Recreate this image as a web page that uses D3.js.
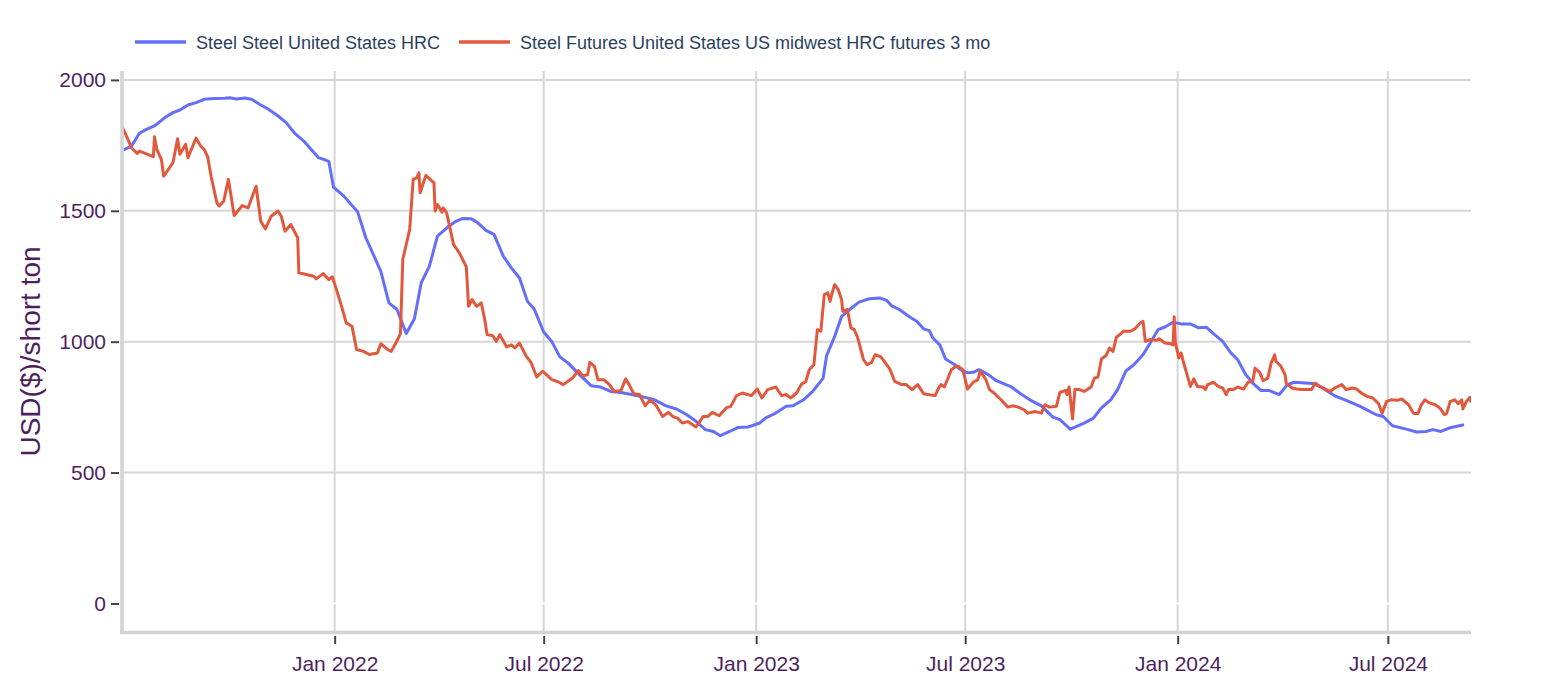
<!DOCTYPE html>
<html><head><meta charset="utf-8">
<script src="https://cdn.jsdelivr.net/npm/d3@7"></script>
<style>body{margin:0;background:#fff} svg{display:block}</style>
</head><body><svg id="chart" width="1552" height="688"></svg>
<script>
const seriesNames = ["Steel Steel United States HRC", "Steel Futures United States US midwest HRC futures 3 mo"];
const yTickValues = [0, 500, 1000, 1500, 2000];
const xTickDates = ["2022-01-01","2022-07-01","2023-01-01","2023-07-01","2024-01-01","2024-07-01"];
const yTitle = "USD($)/short ton";

const hrcDates = ["2021-06-30","2021-07-09","2021-07-16","2021-07-22","2021-07-29","2021-08-07","2021-08-14","2021-08-20","2021-08-27","2021-09-03","2021-09-10","2021-09-19","2021-09-28","2021-10-02","2021-10-08","2021-10-15","2021-10-21","2021-10-28","2021-11-04","2021-11-13","2021-11-20","2021-11-27","2021-12-06","2021-12-18","2021-12-24","2021-12-27","2021-12-31","2022-01-09","2022-01-21","2022-01-28","2022-02-10","2022-02-17","2022-02-24","2022-03-04","2022-03-11","2022-03-17","2022-03-24","2022-03-31","2022-04-10","2022-04-16","2022-04-22","2022-04-29","2022-05-05","2022-05-12","2022-05-19","2022-05-27","2022-06-03","2022-06-10","2022-06-17","2022-06-23","2022-07-01","2022-07-08","2022-07-15","2022-07-22","2022-08-01","2022-08-11","2022-08-19","2022-08-28","2022-09-06","2022-09-15","2022-09-25","2022-10-05","2022-10-15","2022-10-24","2022-11-02","2022-11-09","2022-11-18","2022-11-25","2022-12-01","2022-12-09","2022-12-16","2022-12-25","2023-01-04","2023-01-09","2023-01-17","2023-01-27","2023-02-02","2023-02-11","2023-02-19","2023-02-28","2023-03-03","2023-03-10","2023-03-16","2023-03-23","2023-03-31","2023-04-09","2023-04-18","2023-04-24","2023-04-28","2023-05-05","2023-05-13","2023-05-20","2023-05-26","2023-05-31","2023-06-03","2023-06-09","2023-06-14","2023-06-22","2023-06-27","2023-07-03","2023-07-08","2023-07-13","2023-07-21","2023-07-28","2023-08-10","2023-08-19","2023-08-26","2023-09-05","2023-09-15","2023-09-21","2023-09-30","2023-10-12","2023-10-20","2023-10-27","2023-11-04","2023-11-10","2023-11-17","2023-11-24","2023-12-02","2023-12-09","2023-12-15","2023-12-21","2023-12-28","2024-01-04","2024-01-12","2024-01-19","2024-01-26","2024-02-02","2024-02-09","2024-02-16","2024-02-22","2024-02-29","2024-03-06","2024-03-13","2024-03-20","2024-03-29","2024-04-05","2024-04-11","2024-04-27","2024-05-04","2024-05-17","2024-05-26","2024-06-07","2024-06-21","2024-06-27","2024-07-05","2024-07-17","2024-07-26","2024-08-03","2024-08-09","2024-08-16","2024-08-23","2024-09-05"];
const hrcValues = [1728,1747,1796,1811,1824,1856,1875,1885,1904,1913,1926,1929,1930,1932,1927,1931,1926,1907,1890,1862,1837,1798,1763,1703,1694,1688,1590,1556,1495,1397,1269,1148,1123,1031,1087,1225,1288,1403,1441,1460,1471,1470,1454,1425,1410,1327,1282,1244,1154,1123,1037,1001,942,919,874,832,827,810,806,798,789,778,755,743,721,699,664,657,641,657,672,674,689,708,725,753,755,778,810,861,947,1020,1097,1123,1151,1164,1167,1158,1138,1123,1097,1078,1049,1042,1014,988,934,912,893,881,883,893,874,851,827,798,778,755,712,702,666,689,708,747,778,817,887,912,950,1001,1046,1056,1074,1068,1068,1053,1055,1027,1001,957,931,874,842,814,814,798,836,845,840,827,791,776,753,721,714,679,666,655,657,664,657,670,683];

const futDates = ["2021-06-30","2021-07-06","2021-07-09","2021-07-14","2021-07-16","2021-07-28","2021-07-29","2021-07-31","2021-08-04","2021-08-06","2021-08-14","2021-08-18","2021-08-20","2021-08-25","2021-08-27","2021-09-03","2021-09-07","2021-09-10","2021-09-13","2021-09-16","2021-09-21","2021-09-23","2021-09-27","2021-10-01","2021-10-06","2021-10-13","2021-10-18","2021-10-25","2021-10-29","2021-11-02","2021-11-07","2021-11-13","2021-11-16","2021-11-19","2021-11-24","2021-11-30","2021-12-01","2021-12-14","2021-12-16","2021-12-22","2021-12-27","2021-12-30","2022-01-03","2022-01-07","2022-01-11","2022-01-16","2022-01-20","2022-01-26","2022-01-31","2022-02-07","2022-02-10","2022-02-16","2022-02-19","2022-02-23","2022-02-27","2022-03-01","2022-03-07","2022-03-10","2022-03-13","2022-03-15","2022-03-16","2022-03-21","2022-03-28","2022-03-29","2022-03-31","2022-04-04","2022-04-05","2022-04-08","2022-04-14","2022-04-19","2022-04-25","2022-04-27","2022-04-30","2022-05-04","2022-05-08","2022-05-11","2022-05-13","2022-05-18","2022-05-21","2022-05-24","2022-05-30","2022-06-03","2022-06-06","2022-06-10","2022-06-16","2022-06-20","2022-06-25","2022-06-30","2022-07-02","2022-07-08","2022-07-13","2022-07-18","2022-07-26","2022-07-31","2022-08-04","2022-08-08","2022-08-10","2022-08-14","2022-08-17","2022-08-22","2022-08-27","2022-08-31","2022-09-06","2022-09-10","2022-09-13","2022-09-17","2022-09-22","2022-09-27","2022-10-01","2022-10-06","2022-10-12","2022-10-17","2022-10-21","2022-10-25","2022-10-29","2022-11-03","2022-11-07","2022-11-10","2022-11-16","2022-11-20","2022-11-24","2022-11-30","2022-12-06","2022-12-10","2022-12-15","2022-12-20","2022-12-28","2023-01-02","2023-01-06","2023-01-11","2023-01-18","2023-01-23","2023-01-27","2023-01-31","2023-02-05","2023-02-09","2023-02-13","2023-02-16","2023-02-20","2023-02-23","2023-02-26","2023-03-01","2023-03-04","2023-03-06","2023-03-08","2023-03-10","2023-03-13","2023-03-16","2023-03-17","2023-03-21","2023-03-24","2023-03-27","2023-03-30","2023-04-04","2023-04-07","2023-04-11","2023-04-14","2023-04-19","2023-04-22","2023-04-27","2023-05-01","2023-05-07","2023-05-11","2023-05-16","2023-05-21","2023-05-26","2023-06-05","2023-06-08","2023-06-10","2023-06-13","2023-06-19","2023-06-22","2023-06-25","2023-06-29","2023-07-03","2023-07-08","2023-07-12","2023-07-14","2023-07-19","2023-07-22","2023-07-26","2023-08-01","2023-08-07","2023-08-11","2023-08-16","2023-08-21","2023-08-24","2023-08-31","2023-09-05","2023-09-08","2023-09-12","2023-09-18","2023-09-21","2023-09-26","2023-09-27","2023-09-29","2023-10-02","2023-10-04","2023-10-08","2023-10-12","2023-10-18","2023-10-21","2023-10-24","2023-10-27","2023-10-31","2023-11-03","2023-11-06","2023-11-09","2023-11-12","2023-11-15","2023-11-21","2023-11-25","2023-11-29","2023-12-02","2023-12-04","2023-12-08","2023-12-14","2023-12-16","2023-12-21","2023-12-26","2023-12-28","2023-12-29","2023-12-30","2024-01-02","2024-01-04","2024-01-07","2024-01-10","2024-01-12","2024-01-15","2024-01-18","2024-01-23","2024-01-25","2024-01-27","2024-02-01","2024-02-05","2024-02-09","2024-02-12","2024-02-14","2024-02-18","2024-02-22","2024-02-27","2024-03-02","2024-03-06","2024-03-08","2024-03-12","2024-03-15","2024-03-19","2024-03-22","2024-03-25","2024-03-26","2024-03-30","2024-04-03","2024-04-04","2024-04-09","2024-04-13","2024-04-17","2024-04-26","2024-04-29","2024-05-03","2024-05-08","2024-05-12","2024-05-16","2024-05-22","2024-05-26","2024-05-31","2024-06-04","2024-06-08","2024-06-13","2024-06-18","2024-06-23","2024-06-26","2024-06-30","2024-07-04","2024-07-09","2024-07-13","2024-07-19","2024-07-23","2024-07-27","2024-07-30","2024-08-02","2024-08-06","2024-08-11","2024-08-15","2024-08-19","2024-08-21","2024-08-24","2024-08-28","2024-08-31","2024-09-03","2024-09-04","2024-09-07","2024-09-10","2024-09-11"];
const futValues = [1830,1773,1741,1719,1728,1707,1783,1735,1696,1632,1684,1775,1716,1754,1703,1778,1747,1735,1707,1632,1531,1518,1537,1620,1482,1520,1511,1594,1460,1431,1479,1499,1477,1422,1448,1397,1263,1250,1240,1260,1237,1248,1193,1135,1072,1059,970,963,951,957,992,970,963,995,1031,1314,1429,1620,1626,1645,1569,1635,1607,1499,1524,1495,1511,1492,1371,1339,1286,1135,1161,1135,1148,1084,1027,1023,1001,1027,980,988,976,995,944,921,865,887,880,855,848,836,861,890,870,874,921,906,855,855,836,810,814,858,836,801,798,755,778,759,714,730,714,708,689,695,683,674,714,714,730,717,747,753,794,804,794,819,785,817,827,794,798,785,804,836,848,893,912,1046,1040,1180,1187,1154,1189,1218,1199,1161,1116,1123,1053,1046,1014,931,912,921,950,942,925,893,848,836,836,817,836,801,794,823,836,827,893,903,906,893,819,845,855,887,855,817,804,778,750,755,750,740,727,733,727,759,750,753,806,814,798,827,705,817,817,810,827,861,865,934,947,976,963,1018,1027,1040,1040,1049,1069,1078,1001,1008,1005,1011,995,992,988,1095,995,938,957,906,861,829,858,829,827,817,836,845,829,823,798,817,817,827,819,845,848,899,883,851,861,919,950,925,909,874,842,823,819,817,817,842,829,819,810,823,836,817,823,819,804,791,785,763,727,772,778,776,781,759,727,725,759,778,766,759,747,721,727,772,778,763,778,743,772,787,768];

const colors = ["#636efa", "#e2583d"];
const tickColor = "#4e1f5f";
const font = "'Liberation Sans', Arial, Helvetica, sans-serif";

const parse = d3.utcParse("%Y-%m-%d");
const svg = d3.select("#chart");
const L = 121, R = 1471, T = 71, B = 632;

const x = d3.scaleUtc().domain([parse("2021-06-30"), parse("2024-09-11")]).range([L, R]);
const y = d3.scaleLinear().domain([-109, 2034]).range([B, T]);

const g = svg.append("g");
// horizontal grid
g.selectAll(".hg").data(yTickValues.filter(v => v !== 0)).join("line")
  .attr("x1", L).attr("x2", R).attr("y1", d => y(d)).attr("y2", d => y(d))
  .attr("stroke", "#d6d6d6").attr("stroke-width", 2);
// vertical grid
g.selectAll(".vg").data(xTickDates.map(parse)).join("line")
  .attr("x1", d => x(d)).attr("x2", d => x(d)).attr("y1", T).attr("y2", B)
  .attr("stroke", "#d6d6d6").attr("stroke-width", 2);
// zero line (white)
g.append("line").attr("x1", L).attr("x2", R).attr("y1", y(0)).attr("y2", y(0))
  .attr("stroke", "#ffffff").attr("stroke-width", 2);

svg.append("clipPath").attr("id", "clip").append("rect")
  .attr("x", L).attr("y", T - 5).attr("width", R - L).attr("height", B - T + 5);

const line = d3.line().x(d => x(d[0])).y(d => y(d[1]));
const hrc = hrcDates.map((d, i) => [parse(d), hrcValues[i]]);
const fut = futDates.map((d, i) => [parse(d), futValues[i]]);
const lg = svg.append("g").attr("clip-path", "url(#clip)");
lg.append("path").datum(hrc).attr("d", line).attr("fill", "none")
  .attr("stroke", colors[0]).attr("stroke-width", 3).attr("stroke-linejoin", "round");
lg.append("path").datum(fut).attr("d", line).attr("fill", "none")
  .attr("stroke", colors[1]).attr("stroke-width", 3).attr("stroke-linejoin", "round");

// axis lines
svg.append("line").attr("x1", 122).attr("x2", 122).attr("y1", T).attr("y2", B + 2)
  .attr("stroke", "#d3d3d3").attr("stroke-width", 3.5);
svg.append("line").attr("x1", 120).attr("x2", R).attr("y1", B + 0.5).attr("y2", B + 0.5)
  .attr("stroke", "#d3d3d3").attr("stroke-width", 3.5);

// y axis ticks
const ya = svg.append("g").attr("transform", "translate(119,0)")
  .call(d3.axisLeft(y).tickValues(yTickValues).tickSize(8).tickPadding(5).tickFormat(d3.format("d")));
ya.select(".domain").remove();
ya.selectAll(".tick line").attr("stroke", "#444").attr("stroke-width", 2);
ya.selectAll(".tick text").attr("fill", tickColor).style("font-family", font).style("font-size", "21px");

// x axis ticks
const xa = svg.append("g").attr("transform", "translate(0,636)")
  .call(d3.axisBottom(x).tickValues(xTickDates.map(parse)).tickSize(8).tickPadding(12).tickFormat(d3.utcFormat("%b %Y")));
xa.select(".domain").remove();
xa.selectAll(".tick line").attr("stroke", "#444").attr("stroke-width", 2);
xa.selectAll(".tick text").attr("fill", tickColor).style("font-family", font).style("font-size", "21px");

// y title
svg.append("text").attr("transform", "translate(40,351.5) rotate(-90)")
  .attr("text-anchor", "middle").attr("fill", tickColor)
  .style("font-family", font).style("font-size", "28px").text(yTitle);

// legend
const legendX = [135, 459];
seriesNames.forEach((n, i) => {
  svg.append("line").attr("x1", legendX[i]).attr("x2", legendX[i] + 51).attr("y1", 42).attr("y2", 42)
    .attr("stroke", colors[i]).attr("stroke-width", 3.5);
  svg.append("text").attr("x", legendX[i] + 61).attr("y", 48.5).attr("fill", "#2a3f5f")
    .style("font-family", font).style("font-size", "18px").text(n);
});
</script></body></html>
